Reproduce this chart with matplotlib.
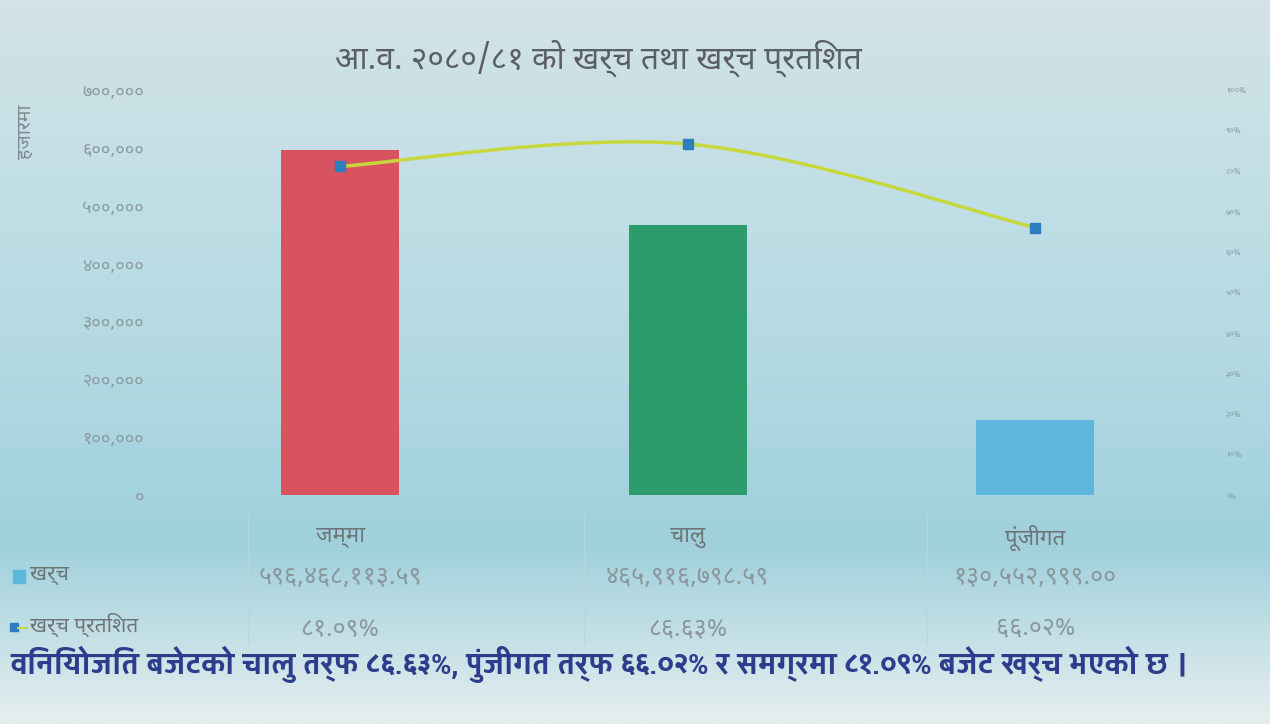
import matplotlib
matplotlib.use('Agg')
import matplotlib.pyplot as plt
from matplotlib import font_manager
from matplotlib.path import Path
from matplotlib.patches import PathPatch
from matplotlib.colors import LinearSegmentedColormap
from matplotlib.transforms import blended_transform_factory
import numpy as np

# data
categories = ['जम्मा', 'चालु', 'पूंजीगत']
kharcha = [596468113.59, 465916798.59, 130552999.00]      # रु.
kharcha_labels = ['५९६,४६८,११३.५९', '४६५,९१६,७९८.५९', '१३०,५५२,९९९.००']
pratishat = [81.09, 86.63, 66.02]
pratishat_labels = ['८१.०९%', '८६.६३%', '६६.०२%']
bar_colors = ['#d9525f', '#2d9c6c', '#5cb7da']
yticks_left = [0, 100000, 200000, 300000, 400000, 500000, 600000, 700000]
yticks_right = [0, 10, 20, 30, 40, 50, 60, 70, 80, 90, 100]

title = 'आ.व. २०८०/८१ को खर्च तथा खर्च प्रतिशत'
footer = 'विनियोजित बजेटको चालु तर्फ ८६.६३%, पुंजीगत तर्फ ६६.०२% र समग्रमा ८१.०९% बजेट खर्च भएको छ ।'

DEV = str.maketrans('0123456789', '०१२३४५६७८९')

fonts = font_manager.fontManager.ttflist
names = set(f.name for f in fonts)
deva = 'DejaVu Sans'
for n in ['Noto Sans Devanagari', 'Mukta', 'Annapurna SIL', 'Akshar']:
    if n in names:
        deva = n
        break
deva_bold = deva
for n in ['Yantramanav', 'Ek Mukta', 'Pragati Narrow', 'Mukta']:
    if n in names:
        deva_bold = n
        break
plt.rcParams['font.family'] = [deva, 'DejaVu Sans']

fig = plt.figure(figsize=(12.7, 7.24), dpi=100)
fig.patch.set_facecolor('#c3e0e7')

# background shading (scan look)
bg = fig.add_axes([0, 0, 1, 1], zorder=-10)
grad = np.linspace(0, 1, 256).reshape(-1, 1)
cm = LinearSegmentedColormap.from_list('bg', ['#d3e3e5', '#c2dfe6', '#b3d9e2', '#9fd0dc', '#e6eeef'])
bg.imshow(grad, aspect='auto', cmap=cm, extent=[0, 1, 0, 1], origin='upper')
bg.axis('off')

ax = fig.add_axes([0.131, 0.316, 0.821, 0.56])
ax.patch.set_alpha(0)
x = np.arange(len(categories))
heights = [v / 1000 for v in kharcha]   # हजारमा
ax.bar(x, heights, width=0.34, color=bar_colors, zorder=2)
ax.set_xlim(-0.5, 2.5)
ax.set_ylim(0, 700000)
ax.set_yticks(yticks_left)
ax.set_yticklabels([format(v, ',').translate(DEV) for v in yticks_left])
ax.tick_params(axis='y', length=0, pad=16, labelsize=13, labelcolor='#8b9ba1')
ax.set_xticks([])
for s in ax.spines.values():
    s.set_visible(False)

ax2 = ax.twinx()
ax2.set_ylim(0, 100)
ax2.set_yticks(yticks_right)
ax2.set_yticklabels([(str(v) + '%').translate(DEV) for v in yticks_right])
ax2.tick_params(axis='y', length=0, pad=12, labelsize=6, labelcolor='#8a9aa2')
for s in ax2.spines.values():
    s.set_visible(False)

# smoothed line (Catmull-Rom as cubic Bezier)
pts = np.column_stack([x, pratishat]).astype(float)
ext = np.vstack([pts[0], pts, pts[-1]])
verts = [tuple(pts[0])]
codes = [Path.MOVETO]
for i in range(1, len(ext) - 2):
    p0, p1, p2, p3 = ext[i - 1], ext[i], ext[i + 1], ext[i + 2]
    c1 = p1 + (p2 - p0) / 6
    c2 = p2 - (p3 - p1) / 6
    verts += [tuple(c1), tuple(c2), tuple(p2)]
    codes += [Path.CURVE4] * 3
ax2.add_patch(PathPatch(Path(verts, codes), fill=False, edgecolor='#c6d83e', lw=2.5, zorder=3))
ax2.plot(x, pratishat, ls='none', marker='s', ms=7, color='#2d7dbf', zorder=4)

# title and axis label
fig.text(0.471, 0.92, title, ha='center', va='center', fontsize=23, color='#5a5f63')
fig.text(0.02, 0.818, 'हजारमा', rotation=90, ha='center', va='center', fontsize=14, color='#7d8a90')

# category labels and data table
tr = blended_transform_factory(ax.transData, fig.transFigure)
for i, c in enumerate(categories):
    ax.text(i, 0.257, c, transform=tr, ha='center', va='center', fontsize=16, color='#6d7478')
    ax.text(i, 0.203, kharcha_labels[i], transform=tr, ha='center', va='center', fontsize=18, color='#8a989d')
    ax.text(i, 0.131, pratishat_labels[i], transform=tr, ha='center', va='center', fontsize=18, color='#8a989d')
for xv in [0.195, 0.46, 0.73]:
    fig.add_artist(plt.Line2D([xv, xv], [0.11, 0.29], color='#b9d6dc', lw=0.8))

fig.add_artist(plt.Rectangle((0.010, 0.195), 0.010, 0.018, color='#5cb7da'))
fig.text(0.024, 0.207, 'खर्च', ha='left', va='center', fontsize=15, color='#6d7478')
fig.add_artist(plt.Rectangle((0.008, 0.128), 0.006, 0.011, color='#2d7dbf'))
fig.add_artist(plt.Line2D([0.014, 0.021], [0.133, 0.133], color='#c6d83e', lw=1.5))
fig.text(0.024, 0.137, 'खर्च प्रतिशत', ha='left', va='center', fontsize=15, color='#6d7478')

fig.text(0.008, 0.083, footer, ha='left', va='center', fontsize=22, fontweight='bold',
         color='#2b3d8c', family=[deva_bold, 'DejaVu Sans'])

fig.savefig('out.png', facecolor=fig.get_facecolor())
